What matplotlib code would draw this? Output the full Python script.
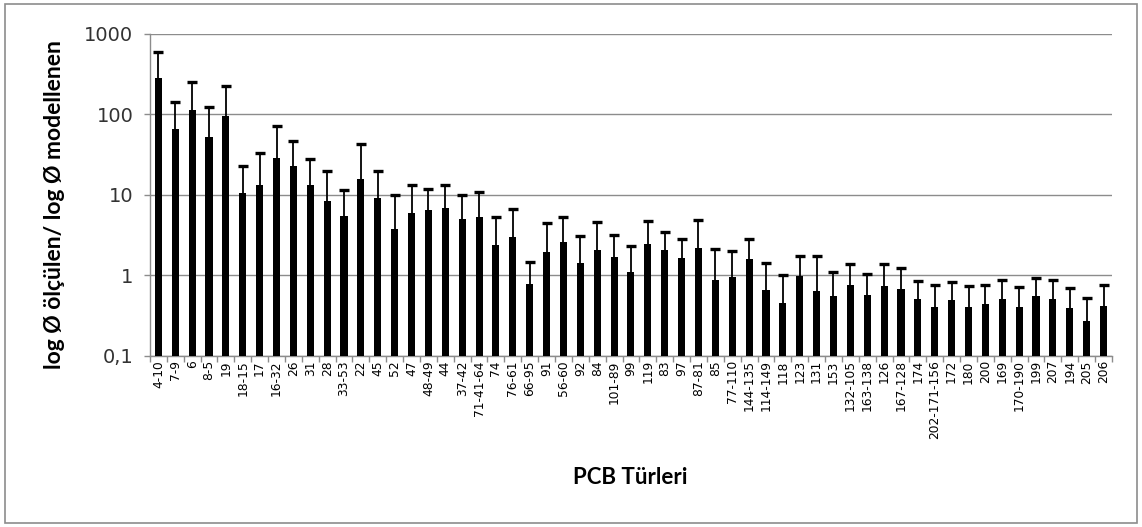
import numpy as np
import matplotlib
matplotlib.use("Agg")
import matplotlib.pyplot as plt
from matplotlib.patches import Rectangle
from matplotlib.ticker import FixedLocator, FixedFormatter, NullLocator

## Data
categories = ["4-10", "7-9", "6", "8-5", "19", "18-15", "17", "16-32", "26", "31",
              "28", "33-53", "22", "45", "52", "47", "48-49", "44", "37-42", "71-41-64",
              "74", "76-61", "66-95", "91", "56-60", "92", "84", "101-89", "99", "119",
              "83", "97", "87-81", "85", "77-110", "144-135", "114-149", "118", "123", "131",
              "153", "132-105", "163-138", "126", "167-128", "174", "202-171-156", "172", "180", "200",
              "169", "170-190", "199", "207", "194", "205", "206"]

ratio = [286, 66, 114, 53, 96, 10.5, 13.2, 28.4, 22.8, 13.2,
         8.5, 5.5, 15.7, 9.1, 3.76, 5.9, 6.6, 6.9, 5.1, 5.3,
         2.36, 3.05, 0.79, 1.97, 2.64, 1.41, 2.1, 1.69, 1.09, 2.43,
         2.05, 1.64, 2.21, 0.88, 0.95, 1.6, 0.66, 0.45, 0.98, 0.65,
         0.55, 0.76, 0.57, 0.73, 0.68, 0.51, 0.41, 0.49, 0.41, 0.44,
         0.51, 0.41, 0.55, 0.51, 0.39, 0.27, 0.42]

upper = [596, 145, 250, 123, 223, 23, 33, 72, 46.6, 27.9,
         20, 11.5, 42.8, 19.8, 10, 13.4, 11.9, 13.4, 10.1, 11.0,
         5.4, 6.7, 1.48, 4.5, 5.4, 3.08, 4.6, 3.2, 2.3, 4.8,
         3.45, 2.86, 4.9, 2.12, 1.99, 2.86, 1.42, 1.02, 1.74, 1.74,
         1.11, 1.38, 1.04, 1.38, 1.24, 0.86, 0.76, 0.83, 0.74, 0.77,
         0.89, 0.72, 0.93, 0.89, 0.69, 0.53, 0.77]

yticks = [0.1, 1, 10, 100, 1000]
ytick_labels = ["0,1", "1", "10", "100", "1000"]

## Figure
fig = plt.figure(figsize=(11.42, 5.27), dpi=100)
fig.patches.append(Rectangle((0.004, 0.008), 0.992, 0.984, transform=fig.transFigure,
                             fill=False, edgecolor="#8c8c8c", linewidth=1.2))
ax = fig.add_axes([0.1313, 0.3245, 0.8424, 0.611])

x = np.arange(len(categories))
ratio = np.array(ratio)
err_up = np.array(upper) - ratio

ax.bar(x, ratio, width=0.42, color="black", zorder=3)
## upper error only: hide the cap drawn at the bar top
_, caps, _ = ax.errorbar(x, ratio, yerr=[np.zeros_like(ratio), err_up], fmt="none",
                         ecolor="black", elinewidth=1.3, capsize=3.8, capthick=2.4, zorder=4)
caps[0].set_visible(False)

ax.set_yscale("log")
ax.set_ylim(0.1, 1000)
ax.set_xlim(-0.5, len(categories) - 0.5)

ax.yaxis.set_major_locator(FixedLocator(yticks))
ax.yaxis.set_major_formatter(FixedFormatter(ytick_labels))
ax.yaxis.set_minor_locator(NullLocator())
ax.grid(axis="y", color="#8c8c8c", linewidth=1.0, zorder=0)

ax.set_xticks(x)
ax.set_xticklabels(categories, rotation=90, fontsize=8.8, family="DejaVu Sans")
ax.set_xticks(np.arange(len(categories) + 1) - 0.5, minor=True)
ax.tick_params(axis="x", which="major", length=0, pad=3)
ax.tick_params(axis="x", which="minor", length=4, color="#8c8c8c", width=1.0)
ax.tick_params(axis="y", which="major", length=4, color="#8c8c8c", width=1.0,
               labelsize=14, pad=8)
for lab in ax.get_yticklabels():
    lab.set_family("DejaVu Sans")
    lab.set_color("#333333")

for side in ["top", "right"]:
    ax.spines[side].set_visible(False)
for side in ["left", "bottom"]:
    ax.spines[side].set_color("#8c8c8c")
    ax.spines[side].set_linewidth(1.0)

fig.text(0.048, 0.611, "log Ø ölçülen/ log Ø modellenen", fontsize=16.5, fontweight="bold",
         family="Lato", rotation=90, ha="center", va="center")
fig.text(0.552, 0.093, "PCB Türleri", fontsize=16, fontweight="bold", family="Lato",
         ha="center", va="center")

fig.savefig("out.png", dpi=100)
